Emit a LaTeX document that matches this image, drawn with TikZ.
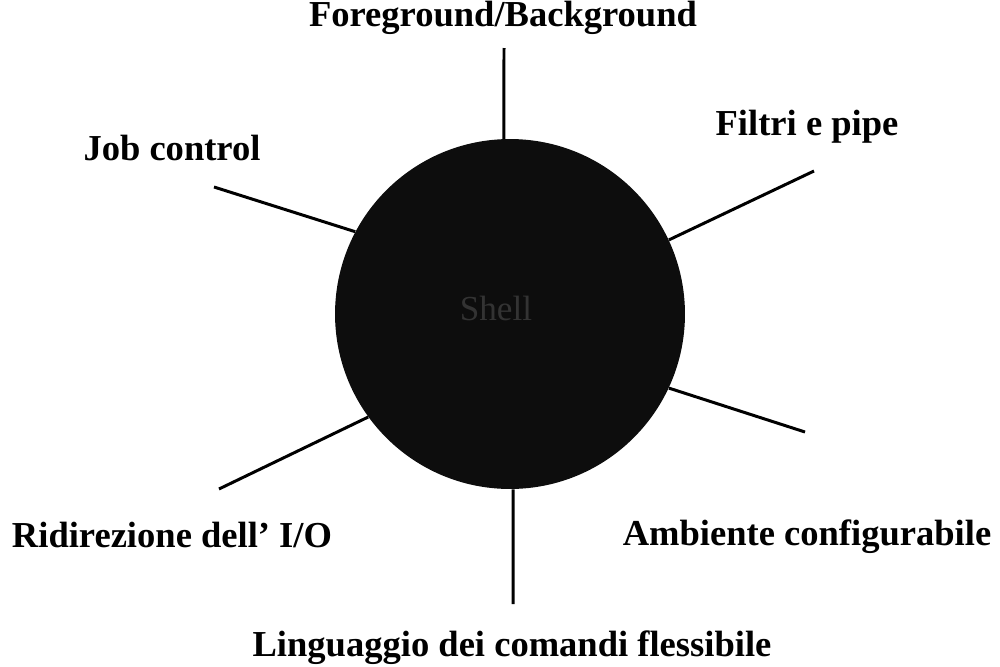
\documentclass[tikz,border=0pt]{standalone}
\usepackage{fontspec}
\setmainfont{Liberation Serif}
\begin{document}
\begin{tikzpicture}[x=0.02cm,y=-0.02cm,
  lbl/.style={font=\fontsize{20.8}{24}\selectfont\bfseries, anchor=base, inner sep=0pt},
  spoke/.style={line width=1.7pt, black},
  core/.style={circle, minimum size=7cm, inner sep=0pt, fill=black!95, draw=none}]
\useasboundingbox (0,0) rectangle (1000,666);
\node[core] (c) at (510,314) {};
\node[font=\fontsize{20}{24}\selectfont, text=black!80] (ctext) at (496,308) {Shell};
% labels
\node[lbl] (fb) at (503,27) {Foreground/Background};
\node[lbl] (jc) at (172,160) {Job control};
\node[lbl] (fp) at (807,135) {Filtri e pipe};
\node[lbl] (io) at (172,547) {Ridirezione dell{\char"27} I/O};
\node[lbl] (amb) at (807,545) {Ambiente configurabile};
\node[lbl] (lin) at (512,656) {Linguaggio dei comandi flessibile};
% free ends
\coordinate (efb) at (504,48);
\coordinate (ejc) at (214,187);
\coordinate (efp) at (814,171);
\coordinate (eio) at (219,489);
\coordinate (eamb) at (805,432);
\coordinate (elin) at (513,604);
% spokes
\draw[spoke] (c.92) -- (efb);
\draw[spoke] (c.152) -- (ejc);
\draw[spoke] (c.25) -- (efp);
\draw[spoke] (c.216) -- (eio);
\draw[spoke] (c.335) -- (eamb);
\draw[spoke] (c.271) -- (elin);
\end{tikzpicture}
\end{document}
